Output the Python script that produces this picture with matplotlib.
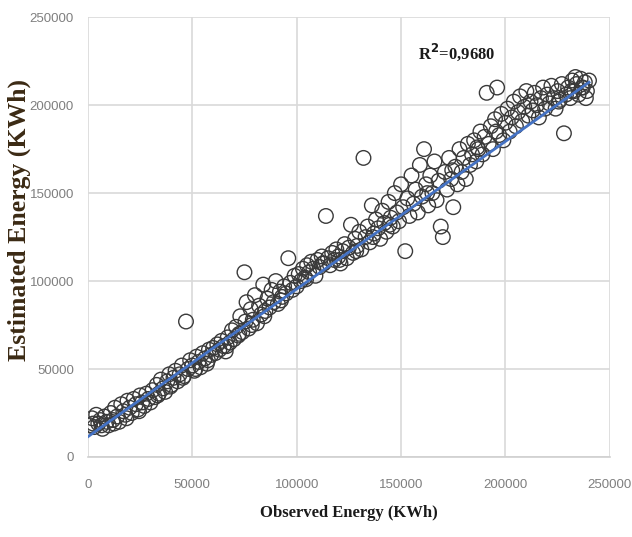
import matplotlib
matplotlib.use("Agg")
import matplotlib.pyplot as plt

# Observed (x) and estimated (y) energy, by region
obs_a = [1000, 2000, 3000, 4000, 5000, 6000, 7000, 8000, 9000, 10000, 11000, 12000, 13000, 14000, 15000,
         16000, 17000, 18000, 19000, 20000, 21000, 22000, 23000, 24000, 25000, 26000, 27000, 28000, 29000, 30000,
         2500, 6500, 12500, 18500, 24500]
est_a = [18000, 22000, 17000, 24000, 19000, 21000, 16000, 23000, 20000, 18000, 25000, 21000, 28000, 23000, 20000,
         30000, 26000, 24000, 32000, 28000, 25000, 33000, 30000, 27000, 35000, 31000, 29000, 36000, 33000, 31000,
         19000, 18000, 19000, 22000, 26000]

obs_b = [31000, 32000, 33000, 34000, 35000, 36000, 37000, 38000, 39000, 40000, 41000, 42000, 43000, 44000, 45000,
         46000, 47000, 48000, 49000, 50000, 51000, 52000, 53000, 54000, 55000, 56000, 57000, 58000, 59000, 60000,
         33500, 39500, 45500, 51500, 57500]
est_b = [38000, 34000, 41000, 36000, 44000, 39000, 37000, 43000, 47000, 41000, 45000, 49000, 43000, 47000, 52000,
         46000, 77000, 50000, 55000, 52000, 49000, 57000, 54000, 51000, 59000, 56000, 53000, 61000, 58000, 62000,
         35000, 40000, 45000, 50000, 55000]

obs_c = [61000, 62000, 63000, 64000, 65000, 66000, 67000, 68000, 69000, 70000, 71000, 72000, 73000, 74000, 75000,
         75500, 76000, 77000, 78000, 79000, 80000, 81000, 82000, 83000, 84000, 85000, 86000, 87000, 88000, 89000,
         90000, 91000, 92000, 93000, 94000, 95000, 96000, 97000, 98000, 99000, 100000, 66500, 72500, 78500, 84500, 92500]
est_c = [59000, 64000, 61000, 66000, 63000, 60000, 68000, 65000, 72000, 67000, 74000, 69000, 80000, 71000, 105000,
         77000, 88000, 73000, 84000, 78000, 92000, 76000, 86000, 81000, 98000, 83000, 90000, 85000, 95000, 88000,
         100000, 87000, 94000, 91000, 97000, 93000, 113000, 99000, 95000, 103000, 97000, 63000, 70000, 75000, 80000, 89000]

obs_d = [101000, 102000, 103000, 104000, 105000, 106000, 107000, 108000, 109000, 110000, 111000, 112000, 113000,
         114000, 115000, 116000, 117000, 118000, 119000, 120000, 121000, 122000, 123000, 124000, 125000, 126000,
         127000, 128000, 129000, 130000, 131000, 132000, 133000, 134000, 135000, 136000, 137000, 138000, 139000,
         140000, 141000, 142000, 143000, 144000, 145000, 146000, 147000, 148000, 149000, 150000, 151000, 152000,
         153000, 154000, 104500, 112500, 120500, 128500, 136500, 144500]
est_d = [104000, 100000, 107000, 102000, 109000, 105000, 111000, 107000, 103000, 112000, 108000, 114000, 110000,
         137000, 113000, 109000, 116000, 112000, 118000, 114000, 110000, 117000, 121000, 113000, 119000, 132000,
         116000, 124000, 120000, 128000, 118000, 170000, 125000, 131000, 122000, 143000, 127000, 135000, 130000,
         124000, 140000, 133000, 128000, 145000, 136000, 131000, 150000, 139000, 134000, 155000, 142000, 117000,
         147000, 137000, 101000, 110000, 112000, 117000, 125000, 132000]

obs_e = [155000, 156000, 157000, 158000, 159000, 160000, 161000, 162000, 163000, 164000, 165000, 166000, 167000,
         168000, 169000, 170000, 171000, 172000, 173000, 174000, 175000, 176000, 177000, 178000, 179000, 180000,
         181000, 182000, 183000, 184000, 185000, 186000, 187000, 188000, 189000, 190000, 191000, 192000, 193000,
         194000, 195000, 196000, 197000, 198000, 199000, 200000, 162500, 174500, 186500, 195500]
est_e = [160000, 144000, 152000, 139000, 166000, 148000, 175000, 155000, 143000, 160000, 150000, 168000, 146000,
         157000, 131000, 125000, 162000, 152000, 170000, 158000, 142000, 165000, 155000, 175000, 162000, 170000,
         158000, 178000, 166000, 172000, 180000, 168000, 175000, 185000, 172000, 182000, 207000, 178000, 188000,
         175000, 192000, 210000, 183000, 195000, 180000, 190000, 150000, 163000, 176000, 185000]

obs_f = [201000, 202000, 203000, 204000, 205000, 206000, 207000, 208000, 209000, 210000, 211000, 212000, 213000,
         214000, 215000, 216000, 217000, 218000, 219000, 220000, 221000, 222000, 223000, 224000, 225000, 226000,
         227000, 228000, 229000, 230000, 231000, 232000, 233000, 234000, 235000, 236000, 237000, 238000, 239000,
         240000, 236500, 233500, 238500, 231500, 225500]
est_f = [198000, 185000, 193000, 202000, 188000, 196000, 205000, 191000, 199000, 208000, 194000, 202000, 197000,
         207000, 200000, 193000, 204000, 210000, 198000, 206000, 201000, 211000, 204000, 198000, 208000, 203000,
         212000, 184000, 206000, 210000, 204000, 214000, 208000, 212000, 206000, 215000, 210000, 213000, 208000,
         214000, 210000, 216000, 204000, 208000, 202000]

observed = obs_a + obs_b + obs_c + obs_d + obs_e + obs_f
estimated = est_a + est_b + est_c + est_d + est_e + est_f

trend_x = [0, 240000]
trend_y = [11500, 213000]

r2_text = "R$^{\\mathbf{2}}$=0,9680"

x_ticks = [0, 50000, 100000, 150000, 200000, 250000]
y_ticks = [0, 50000, 100000, 150000, 200000, 250000]

fig = plt.figure(figsize=(6.32, 5.37), dpi=100)
ax = fig.add_axes([0.139, 0.149, 0.826, 0.819])

ax.scatter(observed, estimated, s=110, facecolors="none", edgecolors="#3a3a3a",
           linewidths=1.0, zorder=3)
ax.plot(trend_x, trend_y, color="#4472C4", linewidth=2.0, zorder=4)

ax.set_xlim(0, 250000)
ax.set_ylim(0, 250000)
ax.set_xticks(x_ticks)
ax.set_yticks(y_ticks)
ax.set_xticklabels([str(v) for v in x_ticks])
ax.set_yticklabels([str(v) for v in y_ticks])
ax.grid(True, color="#d9d9d9", linewidth=1.2, zorder=0)
ax.set_axisbelow(True)
for s in ["top", "right", "left"]:
    ax.spines[s].set_visible(False)
ax.spines["bottom"].set_color("#d0d0d0")
ax.spines["bottom"].set_linewidth(1.2)
ax.tick_params(length=0, labelsize=9.5, labelcolor="#7f7f7f")
ax.tick_params(axis="x", pad=16)
ax.tick_params(axis="y", pad=10)
for lab in ax.get_xticklabels() + ax.get_yticklabels():
    lab.set_family("Liberation Sans")

ax.set_xlabel("Observed Energy (KWh)", fontsize=12, fontweight="bold",
              family="Liberation Serif", color="#1a1a1a", labelpad=10)
ax.set_ylabel("Estimated Energy (KWh)", fontsize=18.5, fontweight="bold",
              family="Liberation Serif", color="#3b2a14")
ax.yaxis.set_label_coords(-0.108, 0.539)

ax.text(158000, 230000, r2_text, fontsize=12, family="Liberation Serif",
        fontweight="bold", color="#1a1a1a", ha="left", va="center")

fig.savefig("out.png", dpi=100, facecolor="white")
